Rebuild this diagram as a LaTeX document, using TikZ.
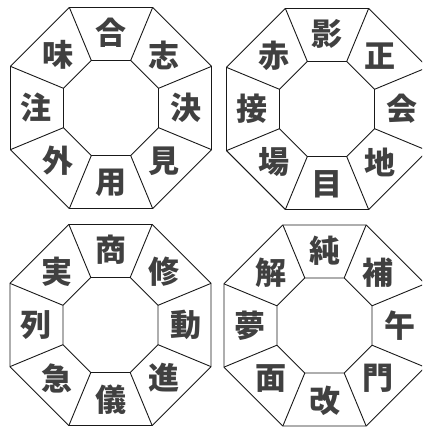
\documentclass[tikz,border=0pt]{standalone}
\usepackage{fontspec}
\newfontfamily\jpfont{Noto Sans CJK JP}
\usetikzlibrary{calc}

\begin{document}
\begin{tikzpicture}[
    x=1pt, y=1pt,
    ringline/.style={draw=black!90, line width=0.9pt},
    kanji/.style={font=\jpfont\bfseries\fontsize{31}{31}\selectfont, text=black!75, inner sep=0pt}
]
    \useasboundingbox (0,0) rectangle (422,427);
    \def\rout{108.8}
    \def\rin{51.4}
    \def\rlbl{75}

    \begin{scope}
    \clip (0,0) rectangle (422,427);
    % ---- four octagon rings: centre x / centre y / labels clockwise from top ----
    \foreach \cx/\cy/\labs [count=\n] in {
        111/319/{合,志,決,見,用,外,注,味},
        327/318/{影,正,会,地,目,場,接,赤},
        110.5/102/{商,修,動,進,儀,急,列,実},
        324.5/101.5/{純,補,午,門,改,面,夢,解}} {
        \coordinate (c\n) at (\cx,\cy);
        \foreach \k in {0,...,7} {
            \coordinate (out\n-\k) at ($(c\n)+(22.5+45*\k:\rout)$);
            \coordinate (in\n-\k)  at ($(c\n)+(22.5+45*\k:\rin)$);
        }
        % outer and inner octagons
        \draw[ringline] (out\n-0) -- (out\n-1) -- (out\n-2) -- (out\n-3)
            -- (out\n-4) -- (out\n-5) -- (out\n-6) -- (out\n-7) -- cycle;
        \draw[ringline] (in\n-0) -- (in\n-1) -- (in\n-2) -- (in\n-3)
            -- (in\n-4) -- (in\n-5) -- (in\n-6) -- (in\n-7) -- cycle;
        % spokes
        \foreach \k in {0,...,7} {
            \draw[ringline] (in\n-\k) -- (out\n-\k);
        }
        % labels
        \foreach \t [count=\i from 0] in \labs {
            \node[kanji] (lbl\n-\i) at ($(c\n)+(90-45*\i:\rlbl)$) {\t};
        }
    }
    \end{scope}
\end{tikzpicture}
\end{document}
